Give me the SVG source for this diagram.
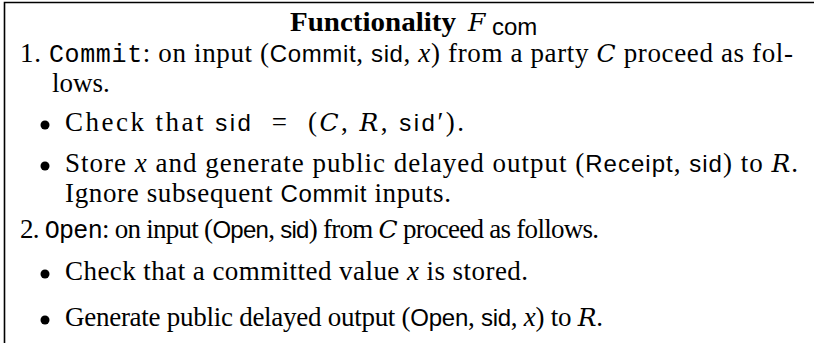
<svg xmlns="http://www.w3.org/2000/svg" width="814" height="343" viewBox="0 0 814 343">
<style>
text{font-family:"Liberation Serif","DejaVu Serif",serif;font-size:27px;fill:#000}
.b{font-weight:bold;font-size:28px}
.tt{font-family:"Liberation Mono","DejaVu Sans Mono",monospace;font-size:25px}
.sf{font-family:"Liberation Sans","DejaVu Sans",sans-serif;font-size:24px}
.it{font-style:italic}
.cal{font-family:"DejaVu Serif",serif;font-style:italic;font-size:25px}
.frame{stroke:#000;stroke-width:1.6;fill:none}
</style>
<g id="frame">
<path class="frame" d="M4.5 343 V2.5 H814"/>
</g>
<g id="title">
<text class="b" x="290" y="31" textLength="166" lengthAdjust="spacingAndGlyphs">Functionality</text>
<text class="cal" x="468" y="31" font-size="27">F</text>
<text class="sf" x="492" y="35" font-size="18">com</text>
</g>
<g id="item1">
<text x="20" y="62" textLength="773" lengthAdjust="spacing">1. <tspan class="tt">Commit</tspan>: on input (<tspan class="sf">Commit</tspan>, <tspan class="sf">sid</tspan>, <tspan class="it">x</tspan>) from a party <tspan class="cal">C</tspan> proceed as fol-</text>
<text x="52" y="92">lows.</text>
<circle cx="45" cy="125" r="4.5"/>
<text x="65" y="131" textLength="399" lengthAdjust="spacing">Check that <tspan class="sf">sid</tspan>&#160;&#160;=&#160;&#160;(<tspan class="cal" font-size="26">C</tspan>,&#160;<tspan class="cal" font-size="26">R</tspan>,&#160;<tspan class="sf">sid</tspan>′).</text>
<circle cx="45" cy="166" r="4.5"/>
<text x="65" y="172" textLength="733" lengthAdjust="spacing">Store <tspan class="it">x</tspan> and generate public delayed output (<tspan class="sf">Receipt</tspan>, <tspan class="sf">sid</tspan>) to <tspan class="cal">R</tspan>.</text>
<text x="65" y="202" textLength="386" lengthAdjust="spacing">Ignore subsequent <tspan class="sf">Commit</tspan> inputs.</text>
</g>
<g id="item2">
<text x="20" y="238" font-size="26" textLength="579" lengthAdjust="spacing">2. <tspan class="tt" font-size="24">Open</tspan>: on input (<tspan class="sf" font-size="23">Open</tspan>, <tspan class="sf" font-size="23">sid</tspan>) from <tspan class="cal">C</tspan> proceed as follows.</text>
<circle cx="45" cy="274" r="4.5"/>
<text x="65" y="280" textLength="463" lengthAdjust="spacing">Check that a committed value <tspan class="it">x</tspan> is stored.</text>
<circle cx="45" cy="320" r="4.5"/>
<text x="65" y="326" textLength="538" lengthAdjust="spacing">Generate public delayed output (<tspan class="sf">Open</tspan>, <tspan class="sf">sid</tspan>, <tspan class="it">x</tspan>) to <tspan class="cal">R</tspan>.</text>
</g>
</svg>
